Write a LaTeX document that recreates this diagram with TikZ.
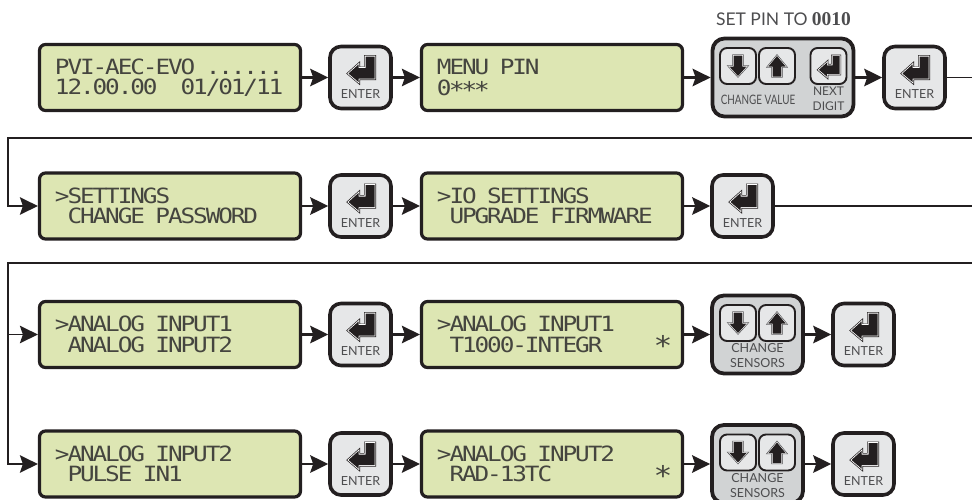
\documentclass[tikz,border=0pt]{standalone}
\usepackage{fontspec}
\setmainfont{Lato}
\newfontfamily\lcdfont[FakeStretch=1.16]{DejaVu Sans Mono}
\newfontfamily\digitfont{Liberation Serif}
\usetikzlibrary{arrows.meta}
\definecolor{ink}{HTML}{231F20}
\definecolor{lcdgreen}{HTML}{DDE6B3}
\definecolor{keyface}{HTML}{E6E7E8}
\definecolor{panel}{HTML}{D1D3D4}
\definecolor{labelgrey}{HTML}{4D4D4F}
\definecolor{lcdtext}{HTML}{45453F}
\def\LC#1{\ifx#1\relax\else\hbox to 12.57pt{\hss#1\hss}\expandafter\LC\fi}
\newcommand{\lcdtwo}[2]{\leavevmode\LC#1\relax\\[-0.5pt]\leavevmode\LC#2\relax}
\def\sta{\smash{\raise-3.5pt\hbox{\fontsize{23}{21}\selectfont *}}}
\def\stc{\kern10pt \smash{\raise-3.5pt\hbox{\fontsize{27}{21}\selectfont *}}}
\tikzset{
  lcd/.style={draw=ink,fill=lcdgreen,line width=3.2pt,rounded corners=6pt,minimum width=261pt,minimum height=66pt,inner sep=0pt,text width=228pt,align=left,text=lcdtext,font=\lcdfont\fontsize{21}{21}\selectfont},
  key/.style={draw=ink,fill=keyface,line width=3.6pt,rounded corners=11pt,minimum width=61pt,minimum height=62pt,inner sep=0pt},
  smallkey/.style={draw=ink,fill=keyface,line width=1.9pt,rounded corners=7pt,minimum width=36pt,minimum height=36pt,inner sep=0pt},
  panelbox/.style={draw=ink,fill=panel,line width=3.8pt,rounded corners=12pt,minimum height=78pt,inner sep=0pt},
  lab/.style={text=labelgrey,inner sep=0pt,align=center,font=\fontsize{12.5}{15}\selectfont},
  conn/.style={draw=ink,line width=2.4pt,-{Stealth[length=18pt,width=17.5pt,inset=3pt]}},
  wire/.style={draw=ink,line width=1.7pt},
  wirearrow/.style={draw=ink,line width=1.7pt,-{Stealth[length=18pt,width=17.5pt,inset=3pt]}},
  pics/enterglyph/.style={code={
    \def\gl{(-12,-4)--(-2,-13)--(-2,-9.5)--(5,-9.5)--(5,-21)--(14,-21)--(14,1)--(-2,1)--(-2,4.5)--cycle}
    \draw[ink,line width=3pt,miter limit=6] \gl;
    \draw[white,line width=1.6pt,miter limit=6] \gl;
    \fill[ink] \gl;
  }},
  pics/upglyph/.style={code={
    \def\gl{(0,-10)--(8.6,0.5)--(4.4,0.5)--(4.4,10.5)--(-4.4,10.5)--(-4.4,0.5)--(-8.6,0.5)--cycle}
    \draw[labelgrey,line width=2.4pt,miter limit=6] \gl;
    \draw[white,line width=1.1pt,miter limit=6] \gl;
    \fill[ink] \gl;
  }},
  pics/downglyph/.style={code={
    \def\gl{(0,10)--(8.6,0.5)--(4.4,0.5)--(4.4,-10.5)--(-4.4,-10.5)--(-4.4,0.5)--(-8.6,0.5)--cycle}
    \draw[labelgrey,line width=2.4pt,miter limit=6] \gl;
    \draw[white,line width=1.1pt,miter limit=6] \gl;
    \fill[ink] \gl;
  }}
}
\newcommand{\enterkey}[3]{%
  \node[key] (#1) at (#2,#3) {};
  \pic at (#2,#3) {enterglyph};
  \node[lab] (#1t) at (#2,#3+17) {ENTER};
}
\newcommand{\updownkeys}[3]{% name, x of down key centre, y
  \node[smallkey] (#1d) at (#2,#3) {};
  \node[smallkey] (#1u) at (#2+39,#3) {};
  \pic at (#2,#3) {downglyph};
  \pic at (#2+39,#3) {upglyph};
}
\begin{document}
\begin{tikzpicture}[x=1pt,y=-1pt]
\useasboundingbox (0,0) rectangle (972,499);
% row 1
\node[lcd] (a1) at (170,77.5) {\lcdtwo{PVI-AEC-EVO~......}{12.00.00~~01/01/11}};
\enterkey{a2}{360.5}{77.5}
\node[lcd] (a3) at (552,77.5) {\lcdtwo{MENU~PIN}{0\sta\sta\sta}};
\node[panelbox,minimum width=141pt] (a4) at (783,77.5) {};
\updownkeys{a4}{738}{66}
\node[smallkey] (a4e) at (828.5,66) {};
\pic[scale=.8] at (828.5,73) {enterglyph};
\node[lab,font=\fontsize{13}{15}\selectfont,xscale=.76] (a4l) at (758,100) {CHANGE VALUE};
\node[lab,font=\fontsize{12}{15}\selectfont] (a4n) at (828.5,98.5) {NEXT\\DIGIT};
\node[lab,font=\fontsize{17.5}{19}\selectfont,anchor=base] (pin) at (783.5,25) {SET PIN TO {\digitfont\bfseries\fontsize{19.5}{19}\selectfont 0010}};
\enterkey{a5}{914.5}{77.5}
\coordinate (r1end) at (972,77.5);
\draw[conn] (a1) -- (a2);
\draw[conn] (a2) -- (a3);
\draw[conn] (a3) -- (a4);
\draw[conn] (a4) -- (a5);
\draw[wire] (a5) -- (r1end);
% row 2
\coordinate (r2start) at (972,138);
\coordinate (r2turn) at (8,138);
\node[lcd] (b1) at (170,206) {\lcdtwo{>SETTINGS}{~CHANGE~PASSWORD}};
\enterkey{b2}{360.5}{206}
\node[lcd] (b3) at (552,206) {\lcdtwo{>IO~SETTINGS}{~UPGRADE~FIRMWARE}};
\enterkey{b4}{742.5}{206}
\coordinate (r2end) at (972,206);
\draw[wirearrow] (r2start) -- (r2turn) |- (b1);
\draw[conn] (b1) -- (b2);
\draw[conn] (b2) -- (b3);
\draw[conn] (b3) -- (b4);
\draw[wire] (b4) -- (r2end);
% row 3
\coordinate (r3start) at (972,263);
\coordinate (r3turn) at (8,263);
\node[lcd] (c1) at (170,334.5) {\lcdtwo{>ANALOG~INPUT1}{~ANALOG~INPUT2}};
\enterkey{c2}{360.5}{334.5}
\node[lcd] (c3) at (552,334.5) {\lcdtwo{>ANALOG~INPUT1}{~T1000-INTEGR~~~~\stc}};
\node[panelbox,minimum width=91pt] (c4) at (757.5,334.5) {};
\updownkeys{c4}{738}{323}
\node[lab] (c4l) at (757.5,356) {CHANGE\\SENSORS};
\enterkey{c5}{863.5}{334.5}
\draw[wirearrow] (r3start) -- (r3turn) |- (c1);
\draw[conn] (c1) -- (c2);
\draw[conn] (c2) -- (c3);
\draw[conn] (c3) -- (c4);
\draw[conn] (c4) -- (c5);
% row 4
\node[lcd] (d1) at (170,464) {\lcdtwo{>ANALOG~INPUT2}{~PULSE~IN1}};
\enterkey{d2}{360.5}{464}
\node[lcd] (d3) at (552,464) {\lcdtwo{>ANALOG~INPUT2}{~RAD-13TC~~~~~~~~\stc}};
\node[panelbox,minimum width=91pt] (d4) at (757.5,464) {};
\updownkeys{d4}{738}{452.5}
\node[lab] (d4l) at (757.5,485.5) {CHANGE\\SENSORS};
\enterkey{d5}{863.5}{464}
\draw[wirearrow] (r3turn) |- (d1);
\draw[conn] (d1) -- (d2);
\draw[conn] (d2) -- (d3);
\draw[conn] (d3) -- (d4);
\draw[conn] (d4) -- (d5);
\end{tikzpicture}
\end{document}
